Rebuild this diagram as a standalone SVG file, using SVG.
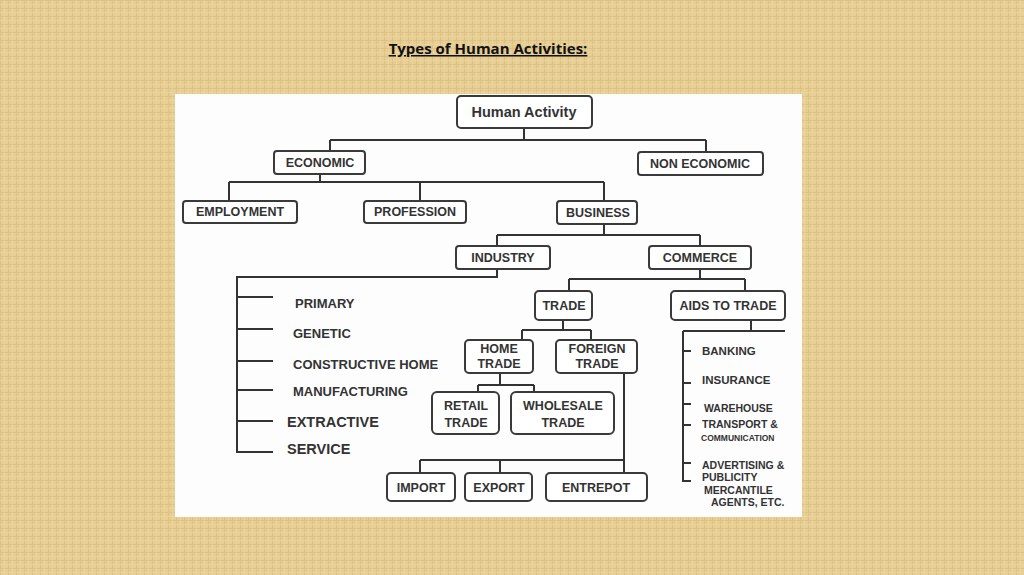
<svg xmlns="http://www.w3.org/2000/svg" width="1024" height="575" viewBox="0 0 1024 575">
<defs>
<pattern id="bg" width="8" height="8" patternUnits="userSpaceOnUse">
<rect width="8" height="8" fill="#e6cd92"/>
<path d="M0 0.5H8M0.5 0V8" stroke="#d9bb7c" stroke-width="1" opacity="0.6"/>
<path d="M0 4.5H8M4.5 0V8" stroke="#efdcaa" stroke-width="1" opacity="0.5"/>
</pattern>
<style>
.b{fill:#fff;stroke:#3a3a3a;stroke-width:2}
.t{font-family:"Liberation Sans",Arial,sans-serif;font-weight:bold;fill:#333;text-anchor:middle;font-size:12.5px}
.l{font-family:"Liberation Sans",Arial,sans-serif;font-weight:bold;fill:#333}
.c{fill:none;stroke:#333;stroke-width:2}
</style>
</defs>
<rect width="1024" height="575" fill="url(#bg)"/>
<text x="488" y="54" font-family="'Open Sans','Liberation Sans',sans-serif" font-weight="bold" font-size="15" text-anchor="middle" text-decoration="underline" fill="#111">Types of Human Activities:</text>
<rect x="175" y="94" width="627" height="423" fill="#fdfdfd"/>
<g id="connectors" class="c">
<path d="M524 128V140M330 140H706M330 140V151M706 140V152"/>
<path d="M320 174V182M229 182H604M229 182V201M420 182V201M604 182V201"/>
<path d="M604 224V235M497 235H700M497 235V246M700 235V246"/>
<path d="M497 269V277H237V452H273M237 297H273M237 329H273M237 361H273M237 390H273M237 421H273"/>
<path d="M700 269V279M569 279H745M569 279V291M745 279V291"/>
<path d="M563 320V330M522 330H591M522 330V340M591 330V340"/>
<path d="M500 373V385M478 385H534M478 385V392M534 385V392"/>
<path d="M624 373V473M420 460H624M420 460V473M500 460V473"/>
<path d="M751 320V331M683 331H785M683 331V481H691M683 351H691M683 383H691M683 404H691M683 425H691M683 463H691"/>
</g>
<g id="n-human"><rect class="b" x="457" y="96" width="135" height="32" rx="4"/><text class="t" x="524" y="117" style="font-size:14.5px">Human Activity</text></g>
<g id="n-economic"><rect class="b" x="274" y="151" width="91" height="23" rx="3"/><text class="t" x="320" y="167">ECONOMIC</text></g>
<g id="n-noneconomic"><rect class="b" x="638" y="152" width="125" height="23" rx="3"/><text class="t" x="700" y="168">NON  ECONOMIC</text></g>
<g id="n-employment"><rect class="b" x="183" y="201" width="114" height="22" rx="3"/><text class="t" x="240" y="216">EMPLOYMENT</text></g>
<g id="n-profession"><rect class="b" x="364" y="201" width="102" height="22" rx="3"/><text class="t" x="415" y="216">PROFESSION</text></g>
<g id="n-business"><rect class="b" x="557" y="201" width="80" height="23" rx="3"/><text class="t" x="598" y="217">BUSINESS</text></g>
<g id="n-industry"><rect class="b" x="456" y="246" width="94" height="23" rx="3"/><text class="t" x="503" y="262">INDUSTRY</text></g>
<g id="n-commerce"><rect class="b" x="649" y="246" width="102" height="23" rx="3"/><text class="t" x="700" y="262">COMMERCE</text></g>
<g id="n-trade"><rect class="b" x="535" y="291" width="57" height="29" rx="4"/><text class="t" x="564" y="310">TRADE</text></g>
<g id="n-aids"><rect class="b" x="671" y="291" width="114" height="29" rx="4"/><text class="t" x="728" y="310">AIDS TO TRADE</text></g>
<g id="n-home"><rect class="b" x="465" y="340" width="68" height="33" rx="4"/><text class="t" x="499" y="353">HOME</text><text class="t" x="499" y="368">TRADE</text></g>
<g id="n-foreign"><rect class="b" x="556" y="340" width="81" height="33" rx="4"/><text class="t" x="597" y="353">FOREIGN</text><text class="t" x="597" y="368">TRADE</text></g>
<g id="n-retail"><rect class="b" x="432" y="392" width="67" height="42" rx="5"/><text class="t" x="466" y="410">RETAIL</text><text class="t" x="466" y="427">TRADE</text></g>
<g id="n-wholesale"><rect class="b" x="511" y="392" width="103" height="42" rx="5"/><text class="t" x="563" y="410">WHOLESALE</text><text class="t" x="563" y="427">TRADE</text></g>
<g id="n-import"><rect class="b" x="387" y="473" width="68" height="28" rx="4"/><text class="t" x="421" y="492">IMPORT</text></g>
<g id="n-export"><rect class="b" x="465" y="473" width="67" height="28" rx="4"/><text class="t" x="499" y="492">EXPORT</text></g>
<g id="n-entrepot"><rect class="b" x="546" y="473" width="101" height="28" rx="4"/><text class="t" x="596" y="492">ENTREPOT</text></g>
<g id="industry-list">
<text class="l" x="295" y="308" style="font-size:13px">PRIMARY</text>
<text class="l" x="293" y="338" style="font-size:13px">GENETIC</text>
<text class="l" x="293" y="369" style="font-size:13px">CONSTRUCTIVE HOME</text>
<text class="l" x="293" y="396" style="font-size:13px">MANUFACTURING</text>
<text class="l" x="287" y="427" style="font-size:14.5px">EXTRACTIVE</text>
<text class="l" x="287" y="454" style="font-size:14.5px">SERVICE</text>
</g>
<g id="aids-list">
<text class="l" x="702" y="355" style="font-size:11.5px">BANKING</text>
<text class="l" x="702" y="384" style="font-size:11.5px">INSURANCE</text>
<text class="l" x="704" y="412" style="font-size:10.5px">WAREHOUSE</text>
<text class="l" x="702" y="428" style="font-size:10.5px">TRANSPORT &amp;</text>
<text class="l" x="701" y="441" style="font-size:8.5px">COMMUNICATION</text>
<text class="l" x="702" y="469" style="font-size:10.5px">ADVERTISING &amp;</text>
<text class="l" x="702" y="481" style="font-size:10.5px">PUBLICITY</text>
<text class="l" x="704" y="494" style="font-size:10.5px">MERCANTILE</text>
<text class="l" x="711" y="506" style="font-size:10.5px">AGENTS, ETC.</text>
</g>
</svg>
